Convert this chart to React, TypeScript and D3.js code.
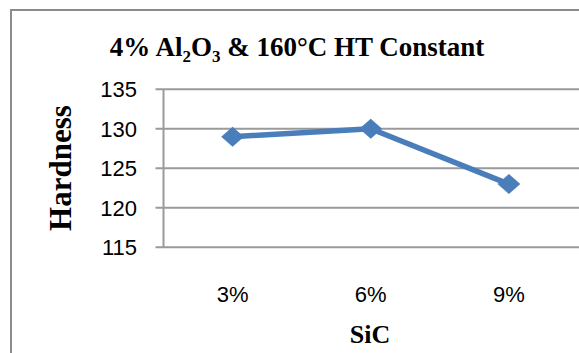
import React from "react";
import * as d3 from "d3";

const categories: string[] = ["3%", "6%", "9%"];
const hardness: number[] = [129, 130, 123];
const yTicks: number[] = [115, 120, 125, 130, 135];

const W = 579;
const H = 353;
const plot = { left: 163.5, right: 578, top: 89.3, bottom: 247.3 };

// Squat diamond marker, slightly wider than tall
const wideDiamond: d3.SymbolType = {
  draw(context, size) {
    const w = Math.sqrt(size) * 0.75;
    const h = w * 0.88;
    context.moveTo(0, -h);
    context.lineTo(w, 0);
    context.lineTo(0, h);
    context.lineTo(-w, 0);
    context.closePath();
  },
};

export default function App() {
  const x = d3
    .scaleBand<string>()
    .domain(categories)
    .range([plot.left, plot.right]);
  const y = d3.scaleLinear().domain([115, 135]).range([plot.bottom, plot.top]);

  const pts = categories.map((c, i) => [x(c)! + x.bandwidth() / 2, y(hardness[i])] as [number, number]);
  const line = d3.line<[number, number]>()(pts) || "";
  const diamond = d3.symbol(wideDiamond, 230)() || "";

  const serif = "'Liberation Serif', 'Times New Roman', serif";
  const sans = "'Liberation Sans', Arial, sans-serif";

  return (
    <svg
      width={W}
      height={H}
      style={{ position: "absolute", left: 0, top: 0, background: "#fff" }}
    >
      {/* chart frame */}
      <rect x={11} y={10} width={W + 20} height={H + 20} fill="#fff" stroke="#8c8c8c" strokeWidth={2} />

      {/* title */}
      <text x={297} y={56} textAnchor="middle" fontFamily={serif} fontWeight="bold" fontSize={27} fill="#000">
        4% Al
        <tspan fontSize={17} dy={6}>2</tspan>
        <tspan dy={-6}>O</tspan>
        <tspan fontSize={17} dy={6}>3</tspan>
        <tspan dy={-6}> &amp; 160°C HT Constant</tspan>
      </text>

      {/* horizontal gridlines */}
      {yTicks.map((t) => (
        <line key={t} x1={plot.left - 8} x2={W} y1={y(t)} y2={y(t)} stroke="#9a9a9a" strokeWidth={2} />
      ))}
      {/* y axis */}
      <line x1={plot.left} x2={plot.left} y1={plot.top} y2={plot.bottom} stroke="#9a9a9a" strokeWidth={2} />

      {/* y tick labels */}
      {yTicks.map((t) => (
        <text key={t} x={137} y={y(t)} dy="0.36em" textAnchor="end" fontFamily={sans} fontSize={22} fill="#000">
          {t}
        </text>
      ))}

      {/* x tick labels */}
      {categories.map((c) => (
        <text key={c} x={x(c)! + x.bandwidth() / 2} y={302} textAnchor="middle" fontFamily={sans} fontSize={22} fill="#000">
          {c}
        </text>
      ))}

      {/* axis titles */}
      <text x={370} y={343} textAnchor="middle" fontFamily={serif} fontWeight="bold" fontSize={26} fill="#000">
        SiC
      </text>
      <text
        transform={`translate(71,168) rotate(-90)`}
        textAnchor="middle"
        fontFamily={serif}
        fontWeight="bold"
        fontSize={31}
        fill="#000"
      >
        Hardness
      </text>

      {/* series */}
      <path d={line} fill="none" stroke="#4a7ebb" strokeWidth={5.5} strokeLinejoin="round" />
      {pts.map((p, i) => (
        <path key={i} d={diamond} transform={`translate(${p[0]},${p[1]})`} fill="#4a7ebb" />
      ))}
    </svg>
  );
}
